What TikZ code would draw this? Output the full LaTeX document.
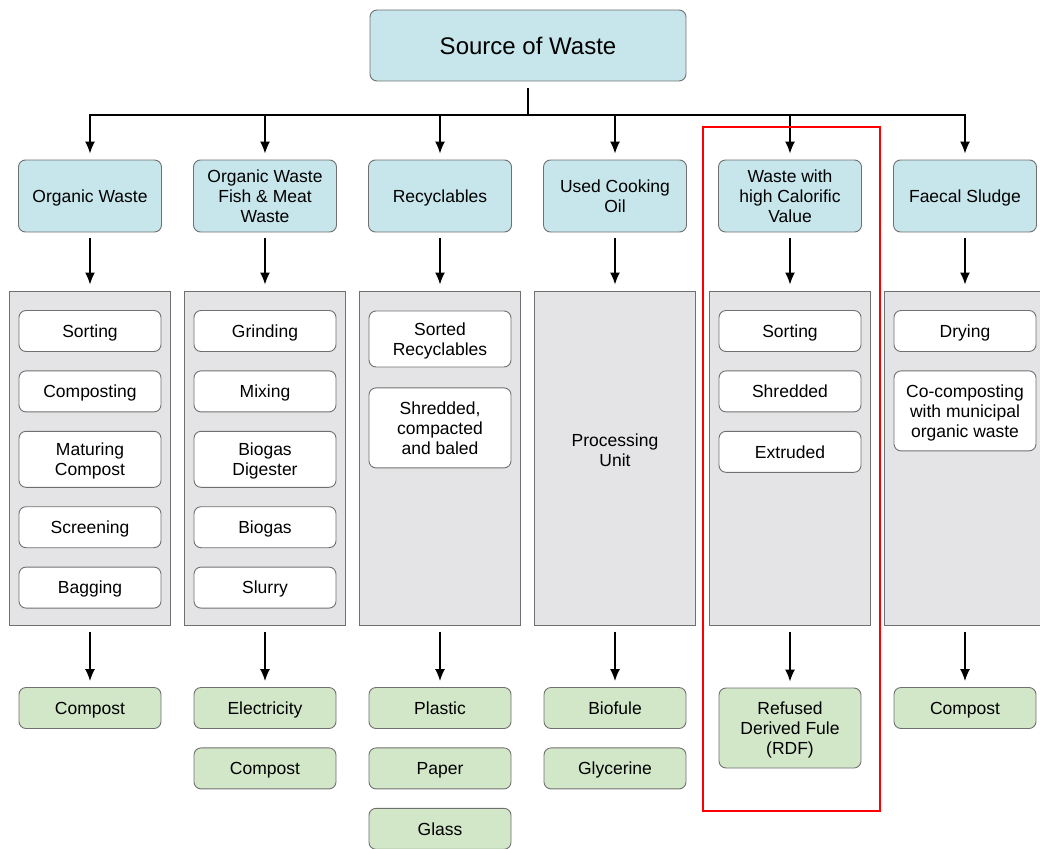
\documentclass[tikz,border=0pt]{standalone}
\usepackage{fontspec}
\setmainfont{Liberation Sans}
\usetikzlibrary{positioning,arrows.meta}
\definecolor{srcBlue}{RGB}{198,230,236}
\definecolor{outGreen}{RGB}{210,231,200}
\definecolor{panelGrey}{RGB}{228,228,230}
\definecolor{edgeGrey}{RGB}{112,112,112}

\tikzset{
  boxbase/.style={draw=edgeGrey, line width=0.9pt, rounded corners=7pt, align=center,
    inner sep=2pt, text depth=0pt, font=\fontsize{17.5}{20}\selectfont},
  srcbox/.style={boxbase, fill=srcBlue, minimum width=316pt, minimum height=71pt,
    font=\fontsize{24}{28}\selectfont},
  catbox/.style={boxbase, fill=srcBlue, minimum width=143pt, minimum height=72pt},
  stepbox/.style={boxbase, fill=white, minimum width=142pt, minimum height=41pt},
  outbox/.style={boxbase, fill=outGreen, minimum width=142pt, minimum height=41pt},
  panel/.style={draw=edgeGrey, line width=1pt, fill=panelGrey, minimum width=161pt,
    minimum height=334pt, inner sep=0pt},
  flow/.style={-{Latex[length=12pt,width=10pt]}, line width=1.4pt,
    shorten <=6pt, shorten >=6pt},
  node distance=18.5pt
}

\begin{document}
\begin{tikzpicture}[x=1pt, y=-1pt]
  \useasboundingbox (0,0) rectangle (1040,848);

  % Source
  \node[srcbox] (src) at (528,45.5) {Source of Waste};

  % Waste categories
  \node[catbox] (cat1) at (90,196)  {Organic Waste};
  \node[catbox] (cat2) at (265,196) {Organic Waste\\Fish \& Meat\\Waste};
  \node[catbox] (cat3) at (440,196) {Recyclables};
  \node[catbox] (cat4) at (615,196) {Used Cooking\\Oil};
  \node[catbox] (cat5) at (790,196) {Waste with\\high Calorific\\Value};
  \node[catbox] (cat6) at (965,196) {Faecal Sludge};

  % Process panels
  \foreach \i/\x in {1/90,2/265,3/440,4/615,5/790,6/965} {
    \node[panel] (pan\i) at (\x,458) {};
  }

  % Organic waste steps
  \node[stepbox] (ow1) at (90,331) {Sorting};
  \node[stepbox, below=of ow1] (ow2) {Composting};
  \node[stepbox, below=of ow2, minimum height=56pt] (ow3) {Maturing\\Compost};
  \node[stepbox, below=of ow3] (ow4) {Screening};
  \node[stepbox, below=of ow4] (ow5) {Bagging};

  % Fish & meat steps
  \node[stepbox] (fm1) at (265,331) {Grinding};
  \node[stepbox, below=of fm1] (fm2) {Mixing};
  \node[stepbox, below=of fm2, minimum height=56pt] (fm3) {Biogas\\Digester};
  \node[stepbox, below=of fm3] (fm4) {Biogas};
  \node[stepbox, below=of fm4] (fm5) {Slurry};

  % Recyclables steps
  \node[stepbox, minimum height=56pt] (rc1) at (440,339) {Sorted\\Recyclables};
  \node[stepbox, below=20pt of rc1, minimum height=80pt] (rc2) {Shredded,\\compacted\\and baled};

  % Cooking oil
  \node[font=\fontsize{17.5}{20}\selectfont, align=center] (oil1) at (615,450) {Processing\\Unit};

  % High calorific steps
  \node[stepbox] (hc1) at (790,331) {Sorting};
  \node[stepbox, below=of hc1] (hc2) {Shredded};
  \node[stepbox, below=of hc2] (hc3) {Extruded};

  % Faecal sludge steps
  \node[stepbox] (fs1) at (965,331) {Drying};
  \node[stepbox, below=of fs1, minimum height=80pt] (fs2) {Co-composting\\with municipal\\organic waste};

  % Products
  \node[outbox] (out1) at (90,708) {Compost};
  \node[outbox] (out2) at (265,708) {Electricity};
  \node[outbox, below=of out2] (out2b) {Compost};
  \node[outbox] (out3) at (440,708) {Plastic};
  \node[outbox, below=of out3] (out3b) {Paper};
  \node[outbox, below=of out3b] (out3c) {Glass};
  \node[outbox] (out4) at (615,708) {Biofule};
  \node[outbox, below=of out4] (out4b) {Glycerine};
  \node[outbox, minimum height=80pt] (out5) at (790,728) {Refused\\Derived Fule\\(RDF)};
  \node[outbox] (out6) at (965,708) {Compost};

  % Distribution bus
  \coordinate (hub) at (528,115);
  \draw[line width=1.4pt, shorten <=7pt] (src.south) -- (hub);
  \draw[line width=1.4pt, line cap=rect] (cat1 |- hub) -- (cat6 |- hub);
  \foreach \i in {1,...,6} {
    \draw[flow, shorten <=0pt] (cat\i |- hub) -- (cat\i);
    \draw[flow] (cat\i) -- (pan\i);
  }

  % Panels to products
  \foreach \i in {1,...,6} {
    \draw[flow] (pan\i) -- (out\i);
  }

  % Highlight
  \draw[red, line width=2pt] (703,127) rectangle (880,811);
\end{tikzpicture}
\end{document}
